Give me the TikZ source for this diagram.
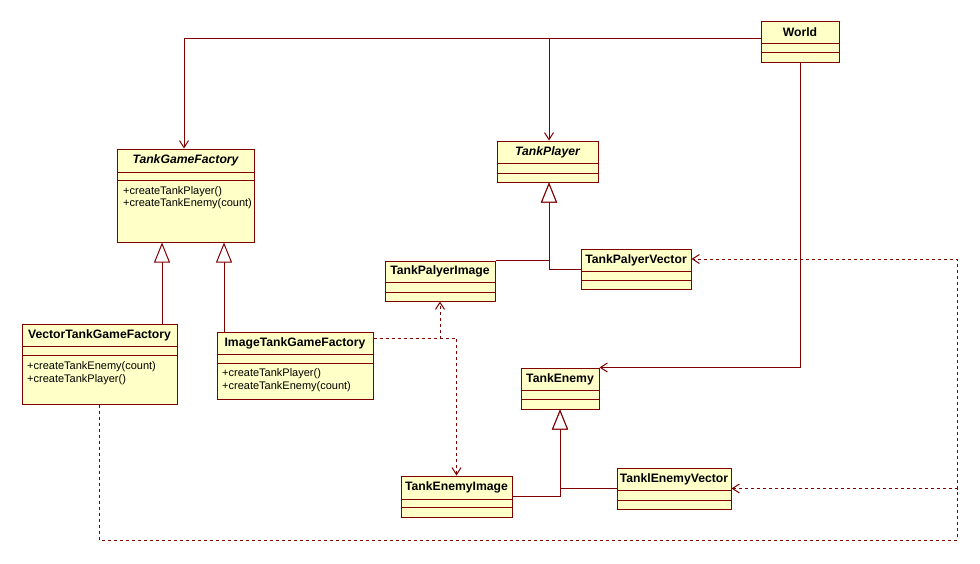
\documentclass[tikz,border=0pt]{standalone}
\usepackage{fontspec}
\setmainfont{Liberation Sans}
\usetikzlibrary{arrows.meta}
\definecolor{umlline}{RGB}{128,0,0}
\definecolor{umlfill}{RGB}{255,255,200}
\tikzset{
  cls/.style={draw=umlline, fill=umlfill, line width=1pt, inner sep=0pt, rectangle},
  ln/.style={draw=umlline, line width=1pt},
  ttl/.style={inner sep=0pt, font=\fontsize{12.2}{13}\selectfont\bfseries},
  op/.style={inner sep=0pt, anchor=west, font=\fontsize{11}{12}\selectfont},
  assoc/.style={draw=umlline, line width=1pt, -{Straight Barb[length=7pt,width=9pt]}},
  gen/.style={draw=umlline, line width=1pt, -{Triangle[open, length=20pt, width=16pt, fill=white]}},
  dep/.style={draw=umlline, line width=1pt, dash pattern=on 3pt off 3pt, -{Straight Barb[length=7pt,width=9pt]}}
}
\newcommand\umlbox[9]{%
  \node[cls, minimum width={#4-#2}, minimum height={#5-#3}] (#1) at ({(#2+#4)/2},{(#3+#5)/2}) {};
  \draw[ln] (#2,#6) -- (#4,#6) (#2,#7) -- (#4,#7);
  \node[ttl] (#1-t) at ({(#2+#4)/2},{(#3+#6)/2}) {#9#8};
}
\begin{document}
\begin{tikzpicture}[x=1pt, y=-1pt]
\useasboundingbox (0,0) rectangle (980,563);
% classes
\umlbox{world}{761}{21}{839}{62}{43}{52}{World}{}
\umlbox{tgf}{117}{149}{254}{242}{172}{180}{TankGameFactory}{\itshape}
\node[op] (tgf-o1) at (123,192) {+createTankPlayer()};
\node[op] (tgf-o2) at (123,204) {+createTankEnemy(count)};
\umlbox{vtgf}{22}{324}{177}{404}{346}{355}{VectorTankGameFactory}{}
\node[op] (vtgf-o1) at (27,367) {+createTankEnemy(count)};
\node[op] (vtgf-o2) at (27,380) {+createTankPlayer()};
\umlbox{itgf}{217}{332}{373}{399}{354}{363}{ImageTankGameFactory}{}
\node[op] (itgf-o1) at (222,374) {+createTankPlayer()};
\node[op] (itgf-o2) at (222,387) {+createTankEnemy(count)};
\umlbox{tp}{497}{141}{598}{182}{163}{173}{TankPlayer}{\itshape}
\umlbox{tpi}{385}{261}{495}{301}{282}{292}{TankPalyerImage}{}
\umlbox{tpv}{581}{249}{691}{289}{271}{280}{TankPalyerVector}{}
\umlbox{te}{521}{368}{599}{409}{390}{399}{TankEnemy}{}
\umlbox{tei}{401}{476}{512}{517}{499}{507}{TankEnemyImage}{}
\umlbox{tev}{617}{468}{731}{509}{490}{500}{TanklEnemyVector}{}
% associations from World
\draw[assoc] ([yshift=3.5pt]world.west) -| ([xshift=-1.5pt]tgf.north);
\draw[assoc] ([yshift=3.5pt]world.west) -| ([xshift=1.5pt]tp.north);
\draw[assoc] (world.south) |- (te.north east);
% generalizations
\draw[gen] ([xshift=-23.5pt]tgf.south |- vtgf.north) -- ([xshift=-23.5pt]tgf.south);
\draw[gen] ([xshift=38.5pt]tgf.south |- itgf.north) -- ([xshift=38.5pt]tgf.south);
\draw[gen] (tpi.north east) -| ([xshift=1.5pt]tp.south);
\draw[gen] (tpv.west) -| ([xshift=1.5pt]tp.south);
\draw[gen] (tei.east) -| (te.south);
\draw[gen] (tev.west) -| (te.south);
% dependencies
\draw[dep] ([yshift=27.5pt]itgf.east) -| (tpi.south);
\draw[dep] ([yshift=27.5pt]itgf.east) -| (tei.north);
\coordinate (bl) at (99.5,540);
\coordinate (br) at (957,540);
\draw[dep] (vtgf.south) -- (bl) -- (br) |- ([yshift=10pt]tpv.east);
\draw[dep] (vtgf.south) -- (bl) -- (br) |- (tev.east);
\end{tikzpicture}
\end{document}
